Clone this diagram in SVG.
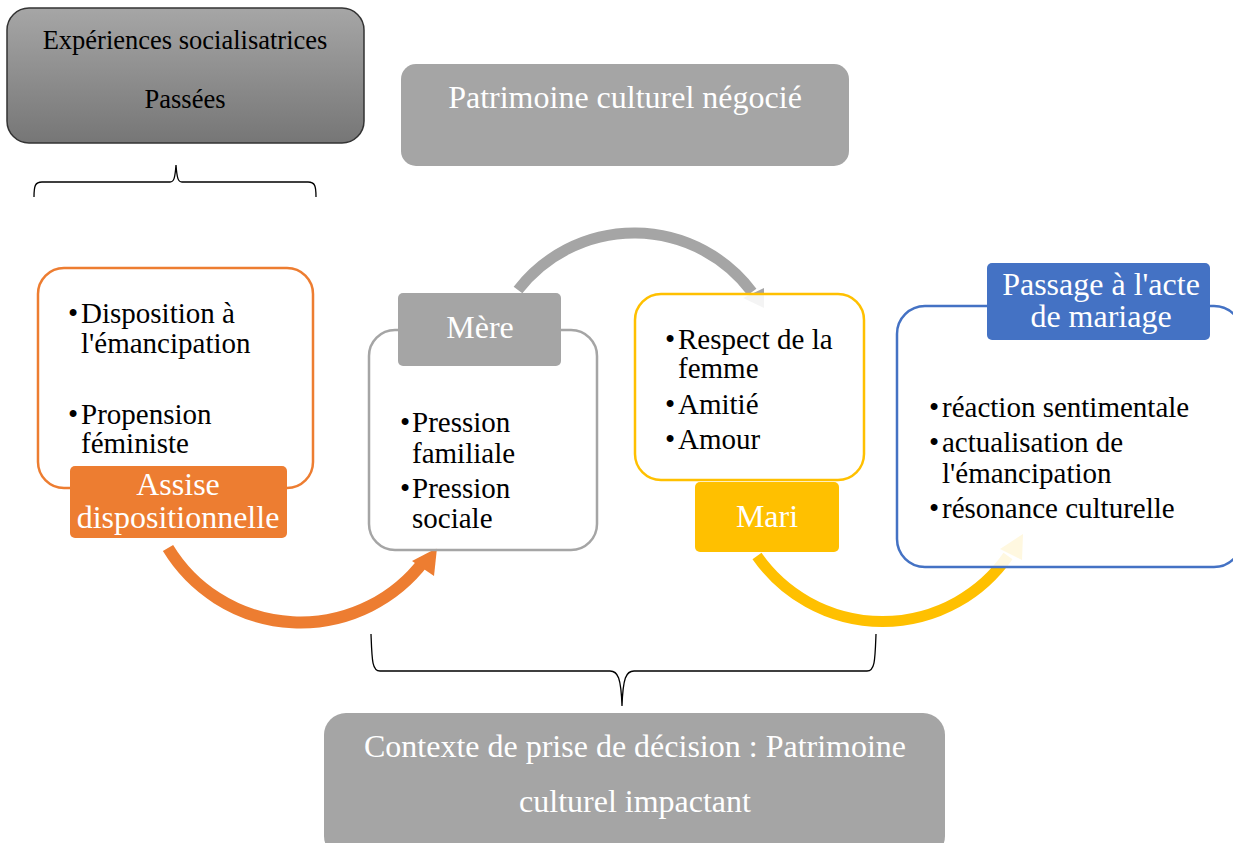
<svg xmlns="http://www.w3.org/2000/svg" width="1233" height="843" viewBox="0 0 1233 843" font-family="'Liberation Serif', 'Times New Roman', serif">
<defs>
<linearGradient id="gTop" x1="0" y1="0" x2="0" y2="1">
<stop offset="0" stop-color="#a6a6a6"/>
<stop offset="1" stop-color="#767676"/>
</linearGradient>
<style>
.b{font-size:29px;fill:#000;}
.w{font-size:32px;fill:#fff;text-anchor:middle;}
.outline{fill:#fff;fill-opacity:0.88;stroke-width:2.5;}
.brace{fill:none;stroke:#000;stroke-width:1.3;}
</style>
</defs>
<rect width="1233" height="843" fill="#fff"/>

<g id="connectors">
<path class="brace" d="M34 197 C34 186 35 182 42 182 L170 182 C174 182 175 178 176 165 C177 178 178 182 182 182 L308 182 C315 182 316 186 316 197"/>
<path class="brace" d="M371 634 C372 660 372 671 380 671 L610 671 C618 671 621 678 622 706 C623 678 626 671 634 671 L867 671 C875 671 875 660 876 634"/>
<path d="M168 548 A155 155 0 0 0 424 561" fill="none" stroke="#ed7d31" stroke-width="12"/>
<polygon points="437,548 434,576 412,561" fill="#ed7d31"/>
<path d="M518 290 A147 147 0 0 1 752 292" fill="none" stroke="#a5a5a5" stroke-width="11"/>
<polygon points="764,308 764,288 743,298" fill="#a5a5a5"/>
<path d="M757 556 A153 153 0 0 0 1008 556" fill="none" stroke="#ffc000" stroke-width="11"/>
<polygon points="1023,534 1022,560 1000,549" fill="#ffc000"/>
</g>

<g id="experiences">
<rect x="7" y="8" width="357" height="135" rx="22" fill="url(#gTop)" stroke="#333" stroke-width="1.5"/>
<text x="185" y="49" font-size="26.5" text-anchor="middle" fill="#000">Expériences socialisatrices</text>
<text x="185" y="108" font-size="26.5" text-anchor="middle" fill="#000">Passées</text>
</g>

<g id="patrimoine-negocie">
<rect x="401" y="64" width="448" height="102" rx="15" fill="#a5a5a5"/>
<text x="625" y="108" class="w">Patrimoine culturel négocié</text>
</g>

<g id="assise">
<rect x="38" y="268" width="275" height="220" rx="26" class="outline" stroke="#ed7d31"/>
<text class="b" y="323"><tspan x="68">•</tspan><tspan x="81">Disposition à</tspan></text>
<text class="b" x="81" y="353">l'émancipation</text>
<text class="b" y="424"><tspan x="68">•</tspan><tspan x="81">Propension</tspan></text>
<text class="b" x="81" y="453">féministe</text>
<rect x="70" y="466" width="217" height="72" rx="5" fill="#ed7d31"/>
<text class="w" x="178" y="495">Assise</text>
<text class="w" x="178" y="528">dispositionnelle</text>
</g>

<g id="mere">
<rect x="369" y="330" width="228" height="220" rx="26" class="outline" stroke="#a5a5a5"/>
<rect x="398" y="293" width="163" height="73" rx="5" fill="#a5a5a5"/>
<text class="w" x="480" y="338">Mère</text>
<text class="b" y="432"><tspan x="400">•</tspan><tspan x="412">Pression</tspan></text>
<text class="b" x="412" y="463">familiale</text>
<text class="b" y="498"><tspan x="400">•</tspan><tspan x="412">Pression</tspan></text>
<text class="b" x="412" y="528">sociale</text>
</g>

<g id="mari">
<rect x="635" y="294" width="229" height="186" rx="26" class="outline" stroke="#ffc000"/>
<text class="b" y="349"><tspan x="665">•</tspan><tspan x="678">Respect de la</tspan></text>
<text class="b" x="678" y="378">femme</text>
<text class="b" y="414"><tspan x="665">•</tspan><tspan x="678">Amitié</tspan></text>
<text class="b" y="449"><tspan x="665">•</tspan><tspan x="678">Amour</tspan></text>
<rect x="695" y="482" width="144" height="70" rx="5" fill="#ffc000"/>
<text class="w" x="767" y="527">Mari</text>
</g>

<g id="passage">
<rect x="897" y="306" width="345" height="261" rx="28" class="outline" stroke="#4472c4"/>
<rect x="987" y="263" width="223" height="77" rx="5" fill="#4472c4"/>
<text class="w" x="1101" y="295">Passage à l'acte</text>
<text class="w" x="1101" y="327">de mariage</text>
<text class="b" y="417"><tspan x="929">•</tspan><tspan x="942">réaction sentimentale</tspan></text>
<text class="b" y="452"><tspan x="929">•</tspan><tspan x="942">actualisation de</tspan></text>
<text class="b" x="942" y="483">l'émancipation</text>
<text class="b" y="518"><tspan x="929">•</tspan><tspan x="942">résonance culturelle</tspan></text>
</g>

<g id="contexte">
<rect x="324" y="713" width="621" height="145" rx="22" fill="#a5a5a5"/>
<text class="w" x="635" y="757">Contexte de prise de décision : Patrimoine</text>
<text class="w" x="635" y="812">culturel impactant</text>
</g>
</svg>
